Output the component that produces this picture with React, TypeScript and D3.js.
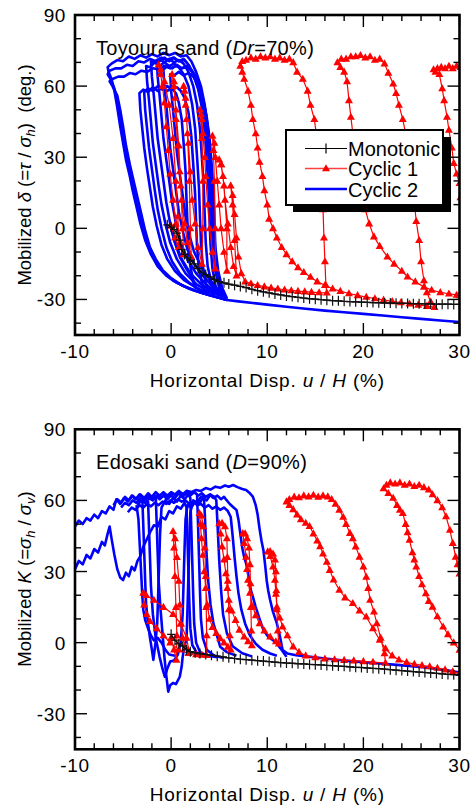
import React from 'react';
import * as d3 from 'd3';

type P = [number, number];

const FONT = '"Liberation Sans", Arial, Helvetica, sans-serif';

// axes
const xTickLabels = [-10, 0, 10, 20, 30];
const yTickLabels = [90, 60, 30, 0, -30];
const xMinor = d3.range(-10, 31, 2);
const yMinor = d3.range(-40, 91, 10);
const legendNames = ['Monotonic', 'Cyclic 1', 'Cyclic 2'];

// ---------- Toyoura sand (Dr=70%) ----------
const toyMono: P[] = [
  [-0.4, 1.5], [0.0, 0.5], [0.3, -0.5], [0.6, -2], [0.9, -5], [1.1, -9], [1.4, -11], [1.7, -12.5], [2.0, -13.5],
  [2.4, -15], [2.8, -17], [3.2, -18.5], [3.6, -19.5], [4.0, -20.5], [4.5, -21.5], [5.0, -22.5], [5.5, -23], [6.0, -23.5],
  [6.6, -24], [7.2, -24.5], [7.8, -25], [8.4, -25.7], [9.0, -26.3], [9.6, -26.8], [10.2, -27.2], [10.8, -27.7],
  [11.4, -28.1], [12.0, -28.5], [12.6, -28.8], [13.2, -29.1], [13.8, -29.4], [14.4, -29.7], [15.0, -29.9], [15.6, -30.1],
  [16.2, -30.3], [16.8, -30.5], [17.4, -30.6], [18.0, -30.8], [18.6, -30.9], [19.2, -31.0], [19.8, -31.1], [20.4, -31.2],
  [21.0, -31.3], [21.6, -31.4], [22.2, -31.5], [22.8, -31.5], [23.4, -31.6], [24.0, -31.7], [24.6, -31.7], [25.2, -31.8],
  [25.8, -31.8], [26.4, -31.9], [27.0, -31.9], [27.6, -32], [28.2, -32], [28.8, -32], [29.4, -32.1], [30.0, -32.1],
];

const toyCyc1: P[][] = [
  [
    [0, 1], [0.4, -4], [0.8, -8],
    [0.7, 5], [0.5, 20], [0.2, 38], [-0.2, 52], [-0.7, 62], [-1.1, 67], [-1.3, 69],
    [-1.1, 65], [-0.9, 60], [-0.7, 53], [-0.5, 43], [-0.3, 33], [-0.1, 23], [0.2, 12], [0.5, 2], [0.9, -6], [1.3, -11],
    [1.2, 0], [1.0, 18], [0.8, 35], [0.5, 50], [0.3, 60], [0.1, 65],
    [0.3, 62], [0.4, 55], [0.5, 46], [0.7, 35], [0.9, 24], [1.1, 12], [1.4, 2], [1.7, -6], [2.1, -12],
    [2.0, 0], [1.9, 20], [1.7, 40], [1.5, 55], [1.3, 60],
    [1.4, 58], [1.5, 52], [1.6, 46], [1.8, 36], [2.0, 24], [2.2, 12], [2.5, 2], [2.8, -8], [3.2, -15],
    [3.3, 0], [3.3, 20], [3.2, 38], [3.1, 48], [3.0, 50],
    [3.2, 46], [3.3, 40], [3.5, 30], [3.6, 22], [3.8, 10], [4.0, 0], [4.3, -10], [4.6, -17],
    [4.6, 0], [4.5, 20], [4.4, 33], [4.3, 39],
    [4.5, 36], [4.6, 30], [4.8, 20], [5.0, 10], [5.2, 0], [5.5, -10], [5.8, -18],
    [5.8, 0], [5.5, 18], [5.2, 27], [5.0, 29],
    [5.2, 27], [5.4, 22], [5.6, 12], [5.9, 2], [6.2, -8], [6.5, -16], [6.8, -20],
    [6.6, -5], [6.4, 10], [6.2, 18],
    [6.4, 14], [6.6, 6], [6.8, -4], [7.0, -12], [7.3, -19], [7.7, -22.5],
    [8.3, -23.3], [9.0, -24], [9.7, -24.6], [10.4, -25.1], [11.1, -25.5], [11.8, -25.9], [12.5, -26.2], [13.2, -26.5],
    [13.9, -26.7], [14.6, -26.9], [15.4, -27.1], [16.2, -27.2],
    [16.1, -24], [16.0, -14], [15.9, -4], [15.8, 8], [15.6, 20], [15.4, 30], [15.1, 40], [14.9, 46], [14.5, 52],
    [14.2, 58], [13.7, 63], [13.1, 66], [12.7, 70],
    [12.3, 71.5], [11.8, 71], [11.3, 72], [10.8, 71.5], [10.3, 72.5], [9.8, 72], [9.3, 72.5], [8.8, 71.5], [8.3, 72],
    [7.8, 71], [7.4, 70.5], [7.2, 68.5],
    [7.4, 66], [7.6, 63], [8.0, 58], [8.3, 52], [8.5, 46], [8.8, 40], [9.0, 34], [9.2, 28], [9.5, 22], [9.7, 16],
    [10.0, 10], [10.2, 4], [10.6, 0], [11.0, -4], [11.5, -8], [12.0, -11], [12.6, -14], [13.2, -16.5], [13.8, -18.5],
    [14.5, -20.5], [15.2, -22.5], [16.0, -24], [16.8, -25.5], [17.6, -26.5], [18.5, -27.5], [19.4, -28.3], [20.3, -29],
    [21.2, -29.6], [22.1, -30.2], [23.0, -30.8], [23.9, -31.3], [24.8, -31.8], [25.7, -32.3], [26.6, -32.8], [27.4, -33.3],
    [27.0, -31], [26.6, -27], [26.3, -22], [26.0, -14], [25.8, -5], [25.5, 3], [25.2, 15], [24.8, 28], [24.4, 40],
    [24.1, 46], [23.7, 52], [23.4, 57], [23.1, 61], [22.6, 65.5], [22.2, 69.5],
    [21.7, 71.5], [21.2, 71], [20.7, 72.5], [20.2, 72], [19.7, 73], [19.2, 72.5], [18.7, 72.5], [18.2, 71.5],
    [17.7, 71.5], [17.3, 70],
    [17.6, 68], [18.0, 66], [18.3, 62], [18.5, 54], [18.7, 47], [18.9, 40], [19.2, 32], [19.5, 24], [19.8, 16],
    [20.2, 8], [20.6, 2], [21.1, -3.5], [21.7, -7.5], [22.5, -12], [23.2, -15], [24.0, -18], [24.6, -20.4],
    [25.4, -22.5], [26.3, -24.7], [27.1, -26], [28.0, -27], [28.9, -27.6], [29.7, -28.1], [30.0, -28.3],
  ],
  [
    [30.1, 68], [29.7, 68.5], [29.3, 67.5], [28.9, 68.5], [28.5, 67.5], [28.1, 68], [27.7, 67.5], [27.3, 67],
    [27.5, 66], [27.9, 65], [28.2, 59], [28.4, 54], [28.7, 47], [28.9, 41.5], [29.2, 34], [29.4, 27.5], [29.7, 23],
    [30.0, 19], [30.1, 13],
  ],
];

const toyCyc2: P[][] = [
  [[0, 0], [0.4, -6], [0.9, -12], [1.5, -16.5], [2.1, -20.5], [2.6, -25.5]],
  [
    [2.6, -25.5], [2.3, -22], [2.0, -16], [1.8, -8], [1.7, 2], [1.6, 12], [1.5, 24], [1.3, 36], [1.1, 46], [0.8, 53],
    [0.5, 57], [0.1, 59], [-0.4, 58], [-0.9, 59.5], [-1.4, 58], [-1.9, 59.5], [-2.4, 57.5], [-2.9, 58.5], [-3.3, 57],
    [-3.2, 50], [-3.0, 42], [-2.8, 34], [-2.5, 25], [-2.2, 17], [-1.9, 9], [-1.5, 1], [-1.0, -7], [-0.4, -13],
    [0.4, -18], [1.4, -22], [2.6, -25], [3.6, -27],
  ],
  [
    [3.6, -27], [3.2, -23], [2.9, -17], [2.7, -8], [2.6, 2], [2.5, 14], [2.3, 27], [2.1, 39], [1.8, 49], [1.4, 55],
    [1.0, 58], [0.6, 59.5], [0.1, 58.5], [-0.4, 60], [-0.9, 58.5], [-1.4, 60], [-1.9, 58], [-2.4, 59], [-2.8, 57.5],
    [-2.7, 50], [-2.5, 42], [-2.3, 34], [-2.0, 25], [-1.7, 16], [-1.4, 8], [-1.0, 0], [-0.5, -8], [0.1, -14],
    [0.9, -19], [1.9, -23], [3.0, -26], [4.0, -27.5],
  ],
  [
    [4.0, -27.5], [3.6, -23], [3.3, -16], [3.1, -6], [3.0, 5], [2.9, 17], [2.7, 30], [2.5, 42], [2.2, 52], [1.8, 60],
    [1.3, 65], [0.8, 68], [0.3, 69.5], [-0.2, 68.5], [-0.7, 70], [-1.2, 68.5], [-1.7, 70], [-2.2, 68], [-2.6, 68.5],
    [-2.5, 62], [-2.3, 54], [-2.1, 45], [-1.9, 36], [-1.6, 27], [-1.3, 18], [-1.0, 10], [-0.6, 2], [-0.1, -6],
    [0.6, -13], [1.5, -19], [2.6, -23.5], [3.8, -26.5], [4.6, -28],
  ],
  [
    [4.6, -28], [4.2, -23], [3.8, -16], [3.6, -6], [3.5, 5], [3.4, 17], [3.2, 30], [3.0, 42], [2.7, 52], [2.3, 60],
    [1.8, 66], [1.3, 69.5], [0.8, 71], [0.3, 70], [-0.2, 71.5], [-0.7, 70], [-1.2, 71.5], [-1.7, 70], [-2.1, 70.5],
    [-2.0, 64], [-1.8, 56], [-1.6, 47], [-1.4, 38], [-1.1, 29], [-0.8, 20], [-0.5, 11], [-0.1, 2], [0.4, -6],
    [1.1, -13], [2.0, -19], [3.1, -23.5], [4.3, -26.5], [5.0, -28.5],
  ],
  [
    [5.0, -28.5], [4.6, -24], [4.3, -17], [4.1, -7], [4.0, 4], [3.9, 16], [3.7, 29], [3.5, 41], [3.2, 51], [2.8, 59],
    [2.3, 65], [1.8, 69], [1.3, 71.5], [0.8, 70.5], [0.3, 72], [-0.2, 70.5], [-0.7, 72], [-1.2, 70.5], [-1.5, 71],
    [-1.4, 64], [-1.2, 56], [-1.0, 47], [-0.8, 38], [-0.5, 29], [-0.2, 20], [0.1, 11], [0.5, 2], [1.0, -6],
    [1.7, -13], [2.6, -19], [3.6, -23.5], [4.7, -27], [5.4, -29],
  ],
  [
    [5.4, -29], [5.0, -25], [4.6, -18], [4.4, -8], [4.3, 3], [4.2, 15], [4.0, 28], [3.8, 40], [3.5, 50], [3.1, 58],
    [2.6, 64], [2.1, 67], [1.6, 68.5], [1.1, 67.5], [0.6, 69], [0.1, 67.5], [-0.4, 68.5], [-0.8, 67],
    [-0.7, 60], [-0.5, 52], [-0.3, 43], [-0.1, 34], [0.2, 25], [0.5, 16], [0.8, 7], [1.2, -1], [1.7, -9],
    [2.4, -15], [3.3, -20], [4.3, -24.5], [5.2, -27.5], [5.8, -29.5],
  ],
  [
    [5.8, -29.5], [5.3, -25], [4.9, -18], [4.6, -8], [4.5, 4], [4.4, 16], [4.2, 28], [4.0, 38], [3.7, 47], [3.3, 55],
    [2.8, 61], [2.3, 64], [1.8, 65.5], [1.3, 64.5], [0.8, 66], [0.3, 64.5], [-0.1, 65],
    [0.0, 58], [0.2, 50], [0.4, 41], [0.6, 32], [0.9, 23], [1.2, 14], [1.5, 5], [1.9, -3], [2.4, -10], [3.1, -16],
    [3.9, -21], [4.8, -25.5], [5.6, -28.5],
  ],
  [
    [5.8, -30.2], [5.3, -27], [4.9, -21], [4.6, -13], [4.4, -3], [4.3, 8], [4.2, 19], [4.0, 31], [3.8, 42], [3.5, 52],
    [3.1, 60], [2.6, 66], [2.1, 70.5], [1.6, 73], [1.0, 72.5], [0.4, 74], [-0.2, 73], [-0.8, 74], [-1.4, 72.5],
    [-2.0, 73.5], [-2.6, 72], [-3.2, 73], [-3.8, 71.5], [-4.4, 72.5], [-5.0, 70.5], [-5.6, 71], [-6.2, 69.5], [-6.6, 68],
    [-6.5, 66], [-6.2, 63], [-5.9, 58], [-5.6, 51], [-5.3, 43], [-5.0, 36], [-4.7, 29], [-4.3, 22], [-4.0, 16],
    [-3.6, 9], [-3.2, 2], [-2.7, -5], [-2.1, -11], [-1.4, -16], [-0.5, -20], [0.6, -23], [1.9, -25.5], [3.3, -27.4],
    [4.6, -28.9], [5.8, -30.2],
  ],
  [
    [5.7, -29.8], [5.2, -26], [4.8, -20], [4.5, -12], [4.3, -2], [4.15, 9], [4.05, 20], [3.9, 31], [3.65, 42], [3.3, 51],
    [2.9, 58], [2.4, 64], [1.9, 68.5], [1.4, 71], [0.8, 70.5], [0.2, 72], [-0.4, 71], [-1.0, 72], [-1.6, 70.5],
    [-2.2, 71.5], [-2.8, 70], [-3.4, 70.5], [-4.0, 68.5], [-4.6, 69], [-5.2, 67.5], [-5.8, 67.5], [-6.4, 66.5], [-6.6, 65],
    [-6.3, 63], [-5.9, 59], [-5.6, 53], [-5.3, 46], [-5.0, 38], [-4.7, 31], [-4.3, 24], [-3.9, 17], [-3.6, 11],
    [-3.2, 4], [-2.7, -3], [-2.2, -9], [-1.6, -14], [-0.8, -18.5], [0.2, -22], [1.4, -24.5], [2.7, -26.5], [4.0, -28.2],
    [5.2, -29.5], [5.8, -30.2],
  ],
  [
    [5.8, -30.2], [5.4, -27.5], [5.0, -22], [4.7, -14], [4.5, -4], [4.35, 7], [4.25, 18], [4.1, 29], [3.9, 40], [3.6, 49],
    [3.2, 56], [2.7, 62], [2.2, 66], [1.7, 68], [1.1, 67.5], [0.5, 68.5], [-0.1, 67.5], [-0.7, 68.5], [-1.3, 67],
    [-1.9, 67.5], [-2.5, 66], [-3.1, 66.5], [-3.7, 65], [-4.3, 65.5], [-4.9, 64], [-5.5, 64], [-6.1, 63], [-6.4, 62],
    [-6.1, 60], [-5.6, 56], [-5.3, 50], [-5.0, 43], [-4.7, 35], [-4.3, 27], [-3.9, 20], [-3.5, 13], [-3.1, 6],
    [-2.7, -1], [-2.2, -8], [-1.6, -13], [-0.9, -17.5], [0.0, -21], [1.1, -24], [2.4, -26.2], [3.7, -27.8],
    [4.9, -29.2], [5.8, -30.2],
  ],
  [
    [5.8, -30.2], [7, -30.8], [8.5, -31.5], [10, -32.2], [12, -33.1], [14, -33.9], [16, -34.7], [18, -35.4], [20, -36.1],
    [22, -36.8], [24, -37.5], [26, -38.2], [28, -38.9], [30, -39.5],
  ],
];

// ---------- Edosaki sand (D=90%) ----------
const edoMono: P[] = [
  [0, 3.5], [0.4, 1], [0.8, -0.5], [1.2, -1.5], [1.6, -3], [2.0, -3.8], [2.5, -4.3], [3.0, -4.6], [3.6, -5],
  [4.2, -5.3], [4.8, -5.7], [5.4, -6], [6.0, -6.4], [6.6, -6.7], [7.2, -7], [7.8, -7.2], [8.4, -7.4], [9.0, -7.6],
  [9.6, -7.8], [10.2, -8], [10.8, -8.2], [11.4, -8.4], [12.0, -8.6], [12.6, -8.7], [13.2, -8.9], [13.8, -9],
  [14.4, -9.2], [15.0, -9.3], [15.6, -9.4], [16.2, -9.6], [16.8, -9.7], [17.4, -9.9], [18.0, -10], [18.6, -10.2],
  [19.2, -10.4], [19.8, -10.5], [20.4, -10.7], [21.0, -10.9], [21.6, -11], [22.2, -11.2], [22.8, -11.4],
  [23.4, -11.6], [24.0, -11.8], [24.6, -12], [25.2, -12.2], [25.8, -12.4], [26.4, -12.6], [27.0, -12.8],
  [27.6, -13], [28.2, -13.2], [28.8, -13.4], [29.4, -13.5], [30.0, -13.7],
];

const edoCyc1: P[][] = [
  [
    [0.0, 2], [0.3, -3], [0.55, -7.3],
    [0.6, 3], [0.5, 15], [0.4, 28], [0.3, 40], [0.2, 47],
    [0.4, 44], [0.6, 36], [0.8, 26], [0.9, 16], [1.0, 8], [1.2, 2], [1.5, -2], [1.9, -4],
    [1.6, 2], [1.0, 8], [0.2, 12], [-0.8, 15], [-1.8, 18], [-2.6, 20], [-2.9, 21],
    [-2.8, 16], [-2.55, 12], [-2.2, 9], [-1.5, 6], [-0.8, 3], [-0.1, 0], [0.8, -3], [1.8, -4.5], [2.6, -5],
    [3.2, -5.2], [3.7, -5.3],
    [3.7, 3], [3.65, 15], [3.6, 28], [3.5, 40], [3.35, 49], [3.15, 53.5], [2.95, 54.6],
    [3.05, 50], [3.15, 44], [3.3, 37], [3.45, 30], [3.6, 23], [3.75, 16], [4.0, 10], [4.3, 6.5], [4.7, 4],
    [5.1, 1.8], [5.5, 0], [5.9, -1.8], [6.2, -3],
    [6.1, 3], [6.0, 14], [5.9, 26], [5.85, 36], [5.8, 44], [5.6, 49], [5.3, 50.5], [5.0, 50.3],
    [5.15, 46], [5.3, 40.5], [5.5, 35], [5.7, 29.2], [5.85, 23], [6.0, 18], [6.3, 13.5], [6.7, 9.5], [7.1, 5.3],
    [7.6, 2.5], [8.0, 0.5], [8.4, -1.2],
    [8.35, 5], [8.3, 15], [8.25, 25], [8.2, 33], [8.1, 40], [7.9, 44], [7.7, 46], [7.45, 46.1],
    [7.6, 42], [7.8, 36.2], [7.9, 31], [8.0, 26.4], [8.2, 21], [8.5, 15.1], [8.8, 11.5], [9.2, 8.1], [9.7, 5],
    [10.3, 2.5], [10.9, 0.5], [11.2, -0.5],
    [11.1, 5], [11.0, 14], [10.95, 22], [10.9, 30], [10.8, 35], [10.6, 37.5], [10.3, 38.5], [10.05, 38.4],
    [10.3, 36.5], [10.6, 32], [10.8, 26.4], [10.9, 20.5], [11.0, 15.1], [11.3, 10.5], [11.6, 6.7], [12.1, 3],
    [12.7, -1.7], [13.3, -4], [14, -5.5], [15, -6.3], [16, -6.8], [17, -7.1], [18, -7.4], [19, -7.6], [20, -7.9],
    [21, -8.2], [22.3, -8.6],
    [22.2, -4.6], [21.8, 2], [21.4, 8.1], [21.1, 13], [20.7, 18], [20.5, 23], [20.3, 27.7], [20.0, 32], [19.6, 36.2],
    [19.2, 40.5], [18.9, 44], [18.6, 46.2], [18.2, 50], [17.9, 53], [17.5, 56], [17.1, 58.5], [16.7, 60.5], [16.3, 61.6],
    [15.8, 62], [15.3, 61.5], [14.8, 62.3], [14.3, 61.6], [13.8, 62], [13.3, 61.2], [12.8, 61.5], [12.3, 60.5], [12.0, 59.5],
    [12.3, 58], [12.7, 56.2], [13.1, 54], [13.5, 52], [14.0, 50.5], [14.4, 49.1], [14.8, 46], [15.2, 43], [15.5, 40.6],
    [15.8, 37.5], [16.2, 34], [16.5, 30.6], [16.9, 26.5], [17.5, 22.2], [18.1, 19], [18.9, 16.6], [19.6, 13.5],
    [20.3, 10.9], [21.0, 6], [21.7, 1.1], [22.3, -2.5], [23.0, -5.5], [23.7, -7.2], [24.5, -8.3], [25.3, -9.0],
    [26.1, -9.6], [26.9, -10.1], [27.7, -10.7], [28.5, -11.4], [29.3, -12.2], [30, -12.9],
  ],
  [
    [30, 29.1], [29.8, 33], [29.6, 36.2], [29.3, 42], [29.0, 47.5], [28.6, 53.2], [28.2, 57], [27.7, 60], [27.2, 62.5],
    [26.8, 64.5], [26.3, 65.5], [25.8, 66.5], [25.3, 66], [24.8, 67], [24.3, 66.5], [23.8, 67.5], [23.3, 67],
    [22.8, 67.5], [22.4, 66.5], [22.1, 65],
    [22.6, 63], [23.1, 61], [23.5, 58], [23.8, 56], [24.1, 54.6], [24.4, 50], [24.6, 46.5], [24.8, 43.3], [25.1, 38],
    [25.3, 35], [25.5, 32], [25.8, 28], [26.1, 24.5], [26.5, 20.7], [26.8, 17.5], [27.2, 15.1], [27.7, 11],
    [28.3, 6.7], [28.8, 3.5], [29.4, 0], [30, -3.1],
  ],
];

const edoCyc2: P[][] = [
  [
    [-10, 49], [-9.6, 51.5], [-9.2, 50], [-8.8, 52.5], [-8.4, 51.5], [-8.0, 54], [-7.6, 52.5], [-7.2, 55.5], [-6.8, 54.5],
    [-6.4, 57.5], [-6.0, 56], [-5.7, 60.5], [-5.3, 58.5], [-4.9, 61], [-4.5, 59.5], [-4.1, 62], [-3.7, 60.5], [-3.3, 62.5],
    [-3.0, 61], [-2.9, 50], [-2.8, 38], [-2.7, 26], [-2.6, 16], [-2.4, 8], [-2.2, 2], [-2.0, -3], [-1.85, -7.3],
    [-1.65, -1], [-1.45, 8], [-1.35, 20], [-1.25, 33], [-1.15, 46], [-1.0, 57], [-0.6, 60], [-0.2, 58.5], [0.2, 61],
    [0.6, 59.5], [1.0, 62], [1.4, 60.5], [1.8, 62.5], [2.0, 61], [2.1, 48], [2.2, 34], [2.3, 20], [2.4, 8], [2.6, 0],
    [3.0, -4], [3.8, -5.5], [4.8, -6.2],
  ],
  [
    [-10, 31], [-9.6, 34.5], [-9.2, 33], [-8.8, 37], [-8.4, 35.5], [-8.0, 39.5], [-7.6, 38], [-7.2, 42.5], [-6.9, 41],
    [-6.6, 46], [-6.4, 49], [-6.2, 44], [-5.9, 37], [-5.6, 31], [-5.3, 27.5], [-5.0, 26.4], [-4.7, 29.5], [-4.4, 28],
    [-4.1, 32], [-3.8, 30.5], [-3.5, 34.5], [-3.2, 36.5], [-2.9, 40.5], [-2.6, 43], [-2.2, 46.5], [-1.8, 49.5],
    [-1.4, 49], [-1.0, 53], [-0.6, 52], [-0.2, 55.5], [0.2, 54.5], [0.6, 57.5], [1.0, 56.5], [1.4, 59], [1.6, 57],
    [1.7, 44], [1.8, 30], [1.9, 16], [2.0, 6], [2.2, -1], [2.7, -4.5], [3.4, -5.8],
  ],
  [
    [-1.6, 62], [-1.5, 50], [-1.4, 38], [-1.3, 26], [-1.1, 14], [-0.9, 4], [-0.7, -6], [-0.5, -14], [-0.3, -20.7],
    [-0.1, -18], [0.2, -17], [0.5, -17.5], [0.9, -14.4], [1.1, -10], [1.2, -6], [1.4, -1], [1.6, 1], [1.7, 14],
    [1.8, 28], [1.9, 42], [2.0, 55], [2.3, 60], [2.7, 59], [3.1, 61.5], [3.4, 62], [3.5, 54.6], [3.65, 40],
    [3.85, 26.4], [4.1, 16], [4.4, 8.1], [4.8, 2.5], [5.1, -1.7], [5.8, -4], [6.8, -5.5],
  ],
  [
    [-2.4, 60], [-2.3, 48], [-2.2, 36], [-2.1, 24], [-1.9, 12], [-1.6, 2], [-1.2, -6], [-0.9, -11], [-0.65, -14.4],
    [-0.4, -11], [-0.1, -8], [0.3, -7.5], [0.7, -5], [1.0, 0], [1.2, 12], [1.3, 26], [1.4, 40], [1.5, 52], [1.7, 58],
    [2.1, 57], [2.5, 59.5], [2.9, 58.5], [3.3, 61], [3.7, 60], [4.1, 62.5], [4.5, 61.5], [4.7, 60], [4.85, 48],
    [5.0, 35], [5.2, 22], [5.4, 12], [5.8, 4], [6.4, -1.5], [7.4, -4.5], [8.4, -5.8],
  ],
  [
    [-3.5, 58], [-3.1, 60], [-2.7, 59], [-2.3, 61], [-1.9, 60], [-1.5, 62], [-1.1, 61], [-0.7, 62.5], [-0.3, 61.5],
    [0.1, 63], [0.5, 62], [0.9, 63.5], [1.3, 62.5], [1.7, 64], [2.1, 63.5], [2.6, 64.4], [3.1, 64], [3.6, 65.2],
    [4.1, 64.6], [4.6, 65.8], [5.1, 65.3], [5.6, 66.3], [6.0, 65.8], [6.45, 66.5], [6.9, 65.6], [7.4, 64.8],
    [7.8, 64.4], [8.2, 63], [8.5, 61.6], [8.8, 58], [9.0, 54], [9.2, 48], [9.4, 43], [9.6, 39], [9.8, 32], [9.95, 26],
    [10.1, 22], [10.3, 18], [10.6, 13], [11.0, 8.1], [11.3, 3], [11.6, -3.1], [12.1, -4.6], [13, -5.3], [14.5, -6.0],
    [16, -6.7], [17.5, -7.3], [19, -7.9], [20.5, -8.4], [22, -8.9], [23.5, -9.4], [25, -9.9], [26.5, -10.5],
    [28, -11.3], [29, -11.9], [30, -12.6],
  ],
  [
    [-6.0, 58], [-5.6, 60.5], [-5.2, 59], [-4.8, 61.5], [-4.4, 60], [-4.0, 62], [-3.6, 60.5], [-3.2, 62.5], [-2.8, 61],
    [-2.4, 63], [-2.0, 61.5], [-1.6, 63.5], [-1.2, 62], [-0.8, 63.5], [-0.4, 62], [0.0, 63.5], [0.4, 62.5], [0.8, 64],
    [1.2, 62.5], [1.6, 64], [2.0, 62.5], [2.4, 63.5], [2.8, 62], [3.2, 63], [3.6, 61.5], [4.0, 62.5], [4.4, 61],
    [4.8, 62], [5.2, 60.5], [5.5, 61.5], [5.75, 60.2], [6.1, 58.5], [6.5, 57], [6.8, 56], [7.0, 52], [7.2, 46],
    [7.4, 40], [7.6, 36], [7.8, 33.5], [8.1, 27], [8.3, 22], [8.5, 19.4], [8.8, 15], [9.2, 10], [9.6, 5.3],
    [10.1, 2.5], [10.6, 1], [11.0, -0.3], [11.3, -2], [11.6, -3.6], [12.0, -6],
  ],
  [
    [-4.5, 55], [-4.1, 57], [-3.7, 56], [-3.3, 58], [-2.9, 57], [-2.5, 58.5], [-2.1, 57.5], [-1.7, 59], [-1.3, 58],
    [-0.9, 59.5], [-0.5, 58.5], [-0.1, 60], [0.3, 59], [0.7, 60.5], [1.1, 59.5], [1.5, 60], [1.9, 58.5], [2.3, 59.5],
    [2.7, 58], [3.1, 58.5], [3.5, 57], [3.9, 58], [4.3, 56.5], [4.7, 57.5], [5.1, 56], [5.5, 57], [5.9, 55.5],
    [6.2, 53], [6.4, 45], [6.6, 36], [6.8, 28], [7.0, 21], [7.3, 14], [7.7, 8], [8.2, 3], [8.8, -0.5], [9.5, -3],
    [10.3, -4.6], [11, -5.5],
  ],
  [
    [-5.2, 57], [-4.8, 59], [-4.4, 58], [-4.0, 60], [-3.6, 59], [-3.2, 61], [-2.8, 60], [-2.4, 62], [-2.0, 60.5],
    [-1.6, 62], [-1.2, 60.5], [-0.8, 62], [-0.4, 60.5], [0.0, 62], [0.4, 61], [0.8, 63], [1.2, 61.5], [1.6, 63],
    [2.0, 62], [2.4, 63.5], [2.7, 62.5], [2.8, 50], [2.9, 36], [3.0, 22], [3.1, 10], [3.3, 2], [3.7, -3],
    [4.5, -5.5], [5.5, -6.5],
  ],
  [
    [-3.6, 58], [-3.4, 52], [-3.3, 44], [-3.2, 36], [-3.1, 28], [-3.0, 20], [-2.9, 14], [-2.7, 9.5], [-2.4, 6],
    [-2.1, 3], [-1.8, 1], [-1.4, 2], [-1.0, 0], [-0.6, -3], [-0.2, -5], [0.4, -5.5],
  ],
];

const LEFT = 75;
const RIGHT = 459.5;
const PH = 320;
const tri = 'M0,-4.3L4,2.8L-4,2.8Z';
const plus = 'M-4,0H4M0,-5V5';

type PanelProps = {
  id: string;
  top: number;
  mono: P[];
  cyc1: P[][];
  cyc2: P[][];
  title: React.ReactNode;
  ylabel: React.ReactNode;
  ylabelY: number;
  legend?: boolean;
};

function Panel({ id, top, mono, cyc1, cyc2, title, ylabel, ylabelY, legend }: PanelProps) {
  const x = d3.scaleLinear().domain([-10, 30]).range([LEFT, RIGHT]);
  const y = d3.scaleLinear().domain([-45, 90]).range([top + PH, top]);
  const line = d3.line<P>().x(d => x(d[0])).y(d => y(d[1]));
  const bottom = top + PH;

  return (
    <g fontFamily={FONT}>
      <defs>
        <clipPath id={id}>
          <rect x={LEFT} y={top} width={RIGHT - LEFT} height={PH} />
        </clipPath>
      </defs>

      <g clipPath={`url(#${id})`}>
        {cyc2.map((s, i) => (
          <path key={'b' + i} d={line(s) || ''} fill="none" stroke="#0000ff" strokeWidth={2.6} strokeLinejoin="round" />
        ))}
        {cyc1.map((s, i) => (
          <path key={'r' + i} d={line(s) || ''} fill="none" stroke="#ff0000" strokeWidth={1.2} />
        ))}
        {cyc1.flat().map((d, i) => (
          <path key={'t' + i} d={tri} transform={`translate(${x(d[0])},${y(d[1])})`} fill="#ff0000" />
        ))}
        <path d={line(mono) || ''} fill="none" stroke="#000" strokeWidth={1.3} />
        {mono.map((d, i) => (
          <path key={'p' + i} d={plus} transform={`translate(${x(d[0])},${y(d[1])})`} stroke="#111" strokeWidth={1.2} fill="none" />
        ))}
      </g>

      {/* ticks */}
      {xMinor.map(v => {
        const len = v % 10 === 0 ? 12 : 6;
        return (
          <g key={'xt' + v} stroke="#000" strokeWidth={1.4}>
            <line x1={x(v)} x2={x(v)} y1={bottom} y2={bottom - len} />
            <line x1={x(v)} x2={x(v)} y1={top} y2={top + len} />
          </g>
        );
      })}
      {yMinor.map(v => {
        const len = v % 30 === 0 ? 12 : 6;
        return (
          <g key={'yt' + v} stroke="#000" strokeWidth={1.4}>
            <line x1={LEFT} x2={LEFT + len} y1={y(v)} y2={y(v)} />
            <line x1={RIGHT} x2={RIGHT - len} y1={y(v)} y2={y(v)} />
          </g>
        );
      })}
      <rect x={LEFT} y={top} width={RIGHT - LEFT} height={PH} fill="none" stroke="#000" strokeWidth={2.6} />

      {/* tick labels */}
      {xTickLabels.map(v => (
        <text key={'xl' + v} x={x(v)} y={top + 343} fontSize={19} textAnchor="middle" letterSpacing={0.6}>{v}</text>
      ))}
      {yTickLabels.map(v => (
        <text key={'yl' + v} x={66} y={y(v) + 7} fontSize={19} textAnchor="end" letterSpacing={0.6}>{v}</text>
      ))}

      <text x={96} y={top + 40} fontSize={20} letterSpacing={0.3} style={{ whiteSpace: 'pre' }}>{title}</text>

      <text x={(LEFT + RIGHT) / 2} y={top + 371.5} fontSize={19} textAnchor="middle" letterSpacing={0.8} style={{ whiteSpace: 'pre' }}>
        Horizontal Disp.<tspan fontStyle="italic"> u </tspan>/<tspan fontStyle="italic"> H </tspan>(%)
      </text>

      <text transform={`translate(30.5,${ylabelY}) rotate(-90)`} fontSize={18.5} textAnchor="middle" style={{ whiteSpace: 'pre' }}>
        {ylabel}
      </text>

      {legend && (
        <g>
          <rect x={293} y={137} width={158} height={75} fill="#000" />
          <rect x={286} y={130} width={157} height={75} fill="#fff" stroke="#000" strokeWidth={2} />
          {legendNames.map((name, i) => {
            const ly = [148.5, 168.5, 189][i];
            return (
              <g key={name}>
                {i === 0 && <line x1={305} x2={347} y1={ly} y2={ly} stroke="#000" strokeWidth={1.2} />}
                {i === 0 && <path d={plus} transform={`translate(326,${ly})`} stroke="#000" strokeWidth={1.2} />}
                {i === 1 && <line x1={305} x2={347} y1={ly} y2={ly} stroke="#ff4040" strokeWidth={1.4} />}
                {i === 1 && <path d={tri} transform={`translate(326,${ly})`} fill="#ff0000" />}
                {i === 2 && <line x1={305} x2={347} y1={ly} y2={ly} stroke="#0000ff" strokeWidth={2.4} />}
                <text x={348} y={ly + 7.5} fontSize={20}>{name}</text>
              </g>
            );
          })}
        </g>
      )}
    </g>
  );
}

export default function App() {
  return (
    <svg width={476} height={805} viewBox="0 0 476 805" style={{ position: 'absolute', left: 0, top: 0, background: '#fff' }}>
      <rect width={476} height={805} fill="#fff" />
      <Panel
        id="clip-toyoura"
        top={15}
        mono={toyMono}
        cyc1={toyCyc1}
        cyc2={toyCyc2}
        legend
        ylabelY={175}
        title={<>Toyoura sand (<tspan fontStyle="italic">Dr</tspan>=70%)</>}
        ylabel={
          <>
            Mobilized <tspan fontStyle="italic">δ</tspan> (=<tspan fontStyle="italic">τ</tspan> / <tspan fontStyle="italic">σ</tspan>
            <tspan fontStyle="italic" fontSize={13} dy={4}>h</tspan><tspan dy={-4}>)  (deg.)</tspan>
          </>
        }
      />
      <Panel
        id="clip-edosaki"
        top={429.3}
        mono={edoMono}
        cyc1={edoCyc1}
        cyc2={edoCyc2}
        ylabelY={579}
        title={<>Edosaki sand (<tspan fontStyle="italic">D</tspan>=90%)</>}
        ylabel={
          <>
            Mobilized <tspan fontStyle="italic">K</tspan> (=<tspan fontStyle="italic">σ</tspan>
            <tspan fontStyle="italic" fontSize={13} dy={4}>h</tspan><tspan dy={-4}> / </tspan><tspan fontStyle="italic">σ</tspan>
            <tspan fontStyle="italic" fontSize={13} dy={4}>v</tspan><tspan dy={-4}>)</tspan>
          </>
        }
      />
    </svg>
  );
}
